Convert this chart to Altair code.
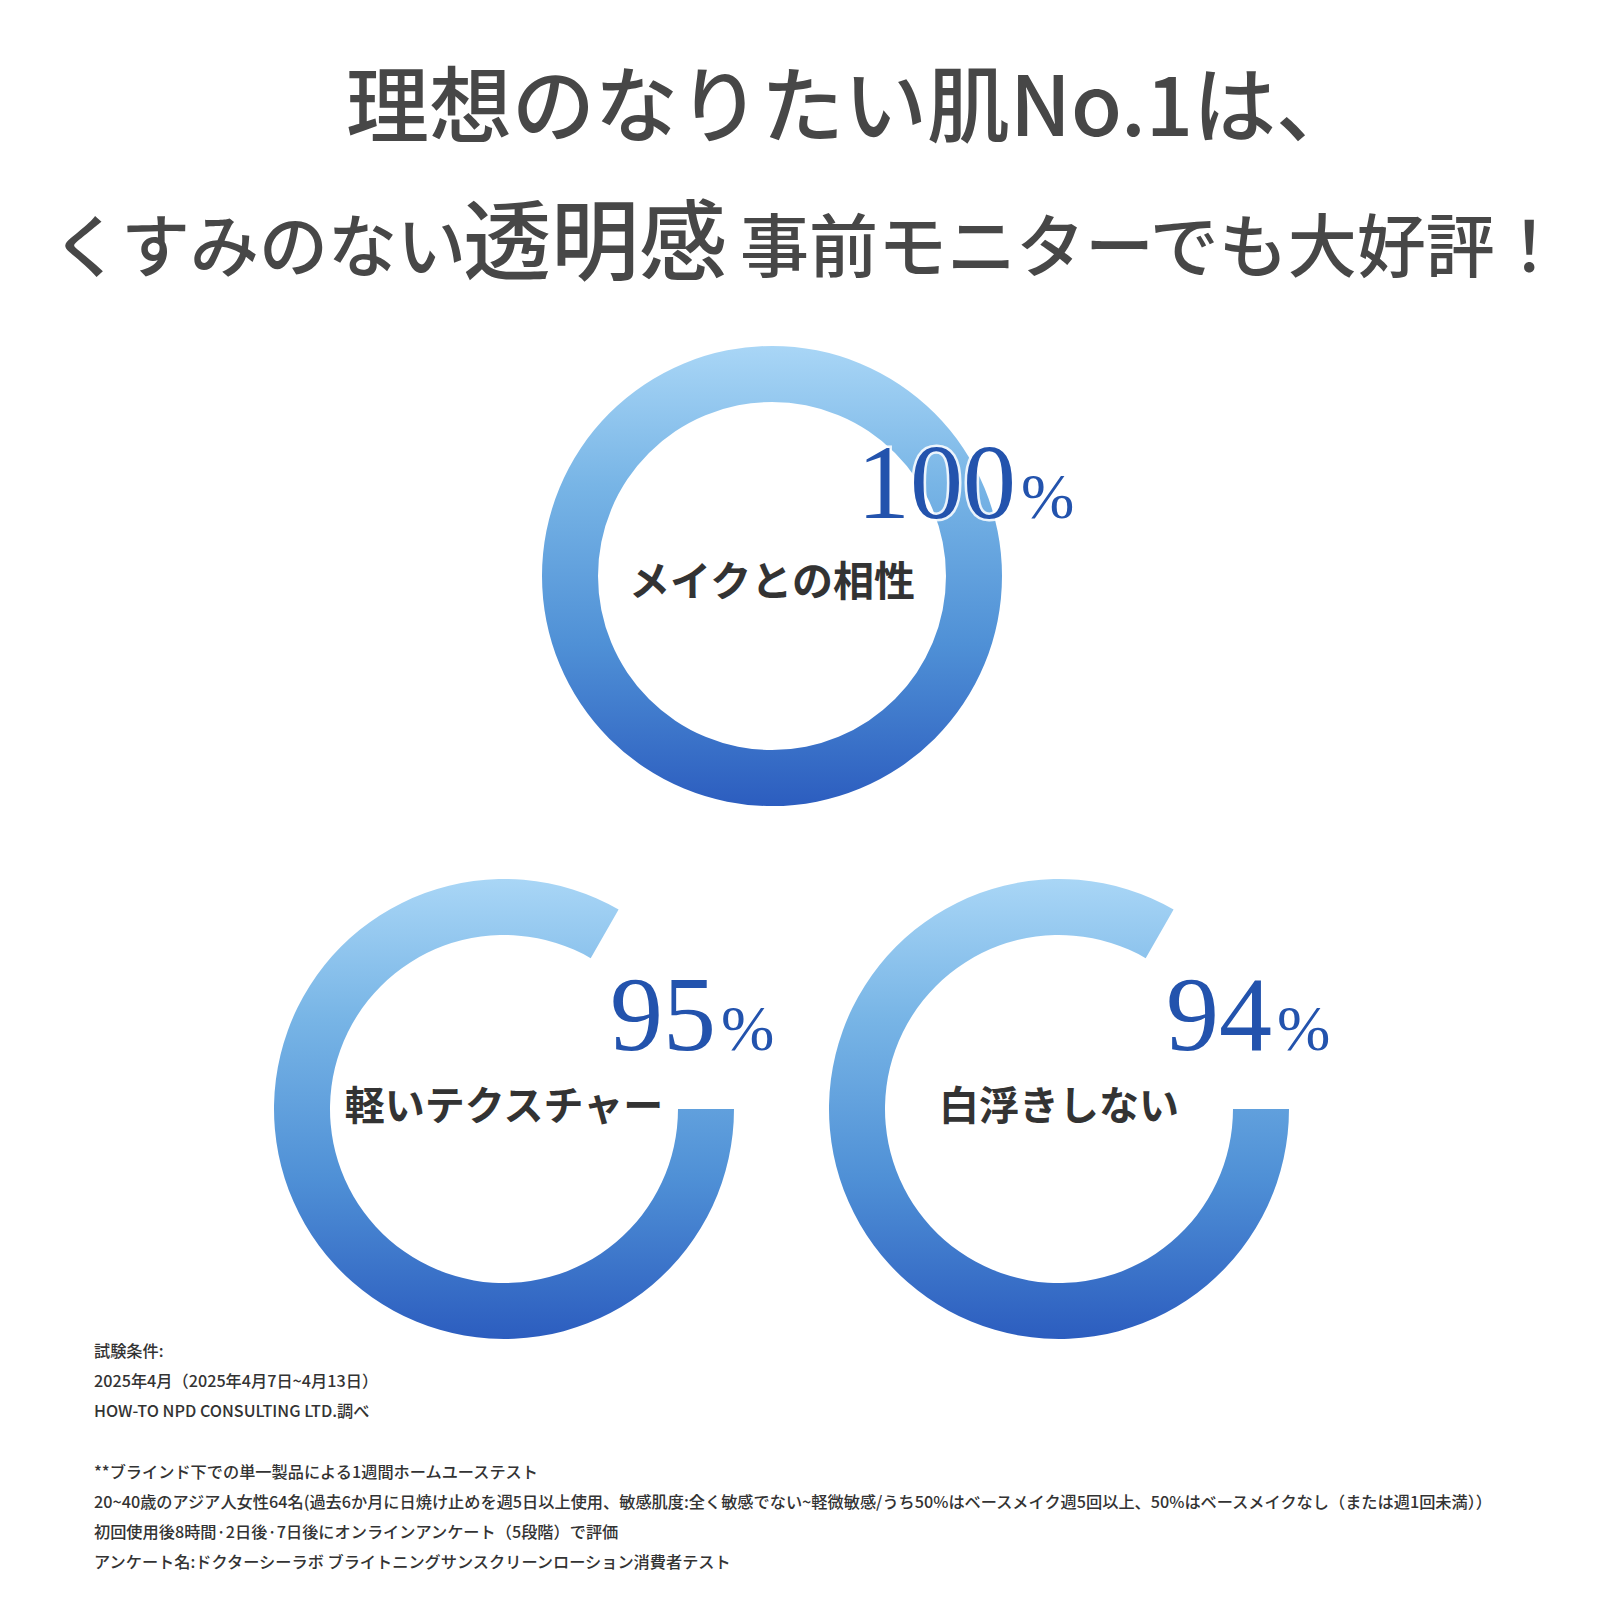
import altair as alt
import pandas as pd

# ---------------- data ----------------
labels = ["メイクとの相性", "軽いテクスチャー", "白浮きしない"]
percent_values = [100, 95, 94]
# share of each ring that is actually drawn in the picture (in %)
drawn_share = [100, 83.3, 83.3]

title_line1 = ["理想のなりたい肌No.1は、"]
title_line2 = ["くすみのない", "透明感", "事前モニターでも大好評！"]

footnotes = [
    "試験条件:",
    "2025年4月（2025年4月7日~4月13日）",
    "HOW-TO NPD CONSULTING LTD.調べ",
    "",
    "**ブラインド下での単一製品による1週間ホームユーステスト",
    "20~40歳のアジア人女性64名(過去6か月に日焼け止めを週5日以上使用、敏感肌度:全く敏感でない~軽微敏感/うち50%はベースメイク週5回以上、50%はベースメイクなし（または週1回未満））",
    "初回使用後8時間·2日後·7日後にオンラインアンケート（5段階）で評価",
    "アンケート名:ドクターシーラボ ブライトニングサンスクリーンローション消費者テスト",
]

# ---------------- layout (page pixels) ----------------
W = H = 1584
RING_CX = [772, 504, 1059]
RING_CY = [576, 1109, 1109]
LABEL_DY = [8, -1, -1]
LABEL_SIZE = [41, 40, 40]
PCT_DX = [244, 212, 213]
PCT_DY = [-58, -59, -59]

T1 = dict(x=[346], y=[111], fs=[83])
T2 = dict(x=[52, 463, 740], y=[251, 247, 251], fs=[69, 88, 69])

FN_X, FN_Y0, FN_STEP = 94, 1352, 30.15

xs = alt.Scale(domain=[8, 8 + W], zero=False, nice=False)
ys = alt.Scale(domain=[8, 8 + H], zero=False, nice=False, reverse=True)

def X(f):
    return alt.X(f, type="quantitative", scale=xs, axis=None)

def Y(f):
    return alt.Y(f, type="quantitative", scale=ys, axis=None)

rings = pd.DataFrame({
    "label": labels,
    "pct": [str(v) for v in percent_values],
    "start": [0, 0, 0],
    "drawn": drawn_share,
    "cx": RING_CX,
    "cy": RING_CY,
    "ly": [c + d for c, d in zip(RING_CY, LABEL_DY)],
    "lsize": LABEL_SIZE,
    "px": [c + d for c, d in zip(RING_CX, PCT_DX)],
    "py": [c + d for c, d in zip(RING_CY, PCT_DY)],
})
rings["px2"] = rings["px"] + 5

gradient = alt.LinearGradient(
    gradient="linear",
    stops=[
        alt.GradientStop(color="#a9d6f6", offset=0),
        alt.GradientStop(color="#78b5e6", offset=0.3),
        alt.GradientStop(color="#4f90d6", offset=0.65),
        alt.GradientStop(color="#2c5dbf", offset=1),
    ],
    x1=0, x2=0, y1=0, y2=1,
)

arcs = alt.Chart(rings).mark_arc(
    innerRadius=174, outerRadius=230, fill=gradient, stroke=None
).encode(
    x=X("cx"),
    y=Y("cy"),
    theta=alt.Theta("start:Q", stack=None,
                    scale=alt.Scale(domain=[0, 100], range=[1.5708, 7.854])),
    theta2="drawn:Q",
)

ring_labels = alt.Chart(rings).mark_text(
    font="Noto Sans CJK JP", fontWeight="bold", color="#333333",
    align="center", baseline="middle",
).encode(
    x=X("cx"), y=Y("ly"), text="label:N",
    size=alt.Size("lsize:Q", scale=None, legend=None),
)

pct_halo = alt.Chart(rings).mark_text(
    font="Liberation Serif", fontSize=106, align="right", baseline="alphabetic",
    color="white", stroke="white", strokeWidth=5, strokeOpacity=0.85,
).encode(x=X("px"), y=Y("py"), text="pct:N")

pct_digits = alt.Chart(rings).mark_text(
    font="Liberation Serif", fontSize=106, align="right", baseline="alphabetic",
    color="#2353ad",
).encode(x=X("px"), y=Y("py"), text="pct:N")

pct_sign = alt.Chart(rings).mark_text(
    font="Liberation Serif", fontSize=64, align="left", baseline="alphabetic",
    color="#2353ad", text="%",
).encode(x=X("px2"), y=Y("py"))

t1 = pd.DataFrame({"text": title_line1, **T1})
t2 = pd.DataFrame({"text": title_line2, **T2})
titles = pd.concat([t1, t2], ignore_index=True)

title_layer = alt.Chart(titles).mark_text(
    font="Noto Sans CJK JP", fontWeight=500, color="#474747",
    align="left", baseline="middle",
).encode(
    x=X("x"), y=Y("y"), text="text:N",
    size=alt.Size("fs:Q", scale=None, legend=None),
)

fn = pd.DataFrame({
    "text": footnotes,
    "x": [FN_X] * len(footnotes),
    "y": [FN_Y0 + i * FN_STEP for i in range(len(footnotes))],
})
fn = fn[fn["text"] != ""]

foot_layer = alt.Chart(fn).mark_text(
    font="Noto Sans CJK JP", fontSize=16.2, fontWeight=500, color="#333333",
    align="left", baseline="middle",
).encode(x=X("x"), y=Y("y"), text="text:N")

chart = alt.layer(
    arcs, ring_labels, pct_halo, pct_digits, pct_sign, title_layer, foot_layer
).properties(
    width=W, height=H, padding=0, autosize=alt.AutoSizeParams(type="none"),
    background="white",
).configure_view(stroke=None)

chart.save("out.html", embed_options={"renderer": "svg", "actions": False})
